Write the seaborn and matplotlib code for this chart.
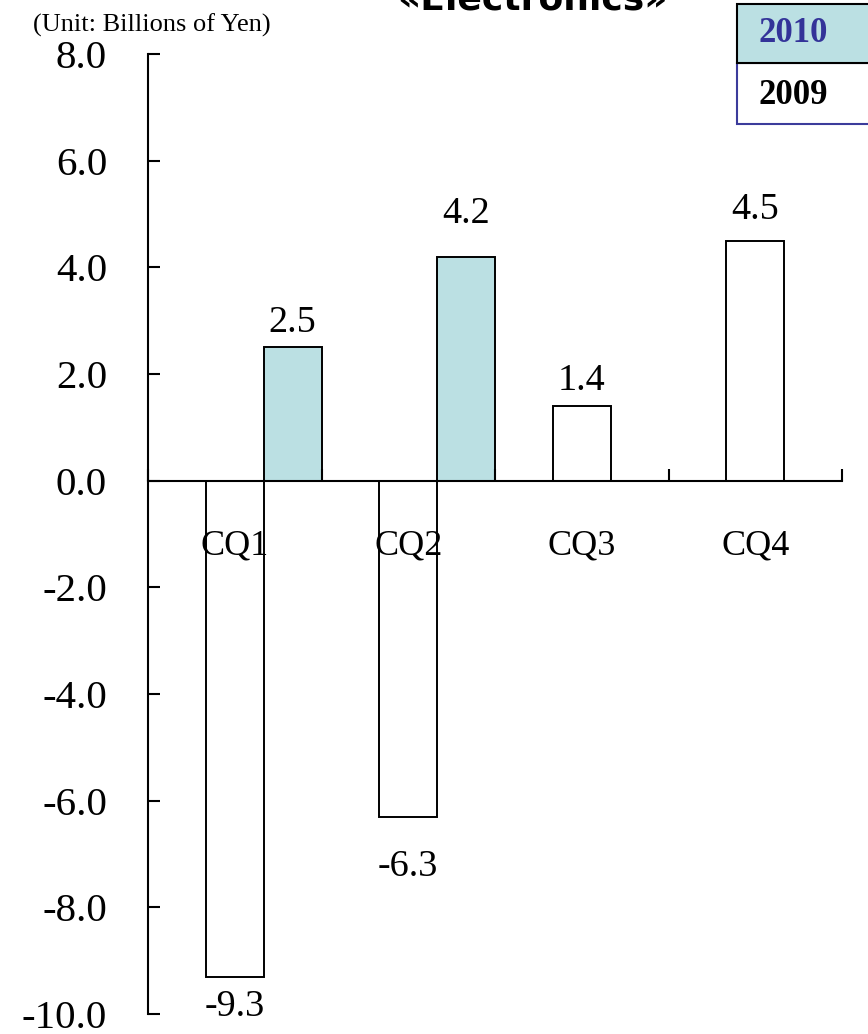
import numpy as np
import pandas as pd
import matplotlib
matplotlib.use("Agg")
import matplotlib.pyplot as plt
from matplotlib.patches import Rectangle
import seaborn as sns

# Quarterly operating income, electronics segment (billions of yen)
quarters = ["CQ1", "CQ2", "CQ3", "CQ4"]
years = ["2009", "2010"]
income_2009 = [-9.3, -6.3, 1.4, 4.5]
income_2010 = [2.5, 4.2, np.nan, np.nan]
y_ticks = [8.0, 6.0, 4.0, 2.0, 0.0, -2.0, -4.0, -6.0, -8.0, -10.0]

# distance (px) between each bar end and its value label
label_gap_px = {
    ("2009", "CQ1"): 30, ("2009", "CQ2"): 50, ("2009", "CQ3"): 25, ("2009", "CQ4"): 31,
    ("2010", "CQ1"): 25, ("2010", "CQ2"): 43,
}

df = pd.DataFrame({
    "quarter": quarters * 2,
    "year": ["2009"] * 4 + ["2010"] * 4,
    "income": income_2009 + income_2010,
}).dropna()

sns.set_theme(style="white")
plt.rcParams["font.family"] = ["Liberation Serif", "DejaVu Serif"]

W, H = 868, 1034
fig = plt.figure(figsize=(W / 100, H / 100), dpi=100)
ax = fig.add_axes([148 / W, 1 - 1014 / H, (842 - 148) / W, (1014 - 54) / H])

palette = {"2009": "#ffffff", "2010": "#bbe0e3"}
sns.barplot(data=df, x="quarter", y="income", hue="year", order=quarters,
            hue_order=years, palette=palette, dodge=True, width=0.668,
            edgecolor="black", linewidth=1.4, saturation=1, legend=False, ax=ax)

# 2009 bar sits at the middle of each quarter slot
shift = 0.668 / 4
ax.set_xlim(-0.5 - shift, len(quarters) - 0.5 - shift)
ax.set_ylim(-10, 8)
ax.set_axisbelow(False)

# value labels
for cont, yr in zip(ax.containers, years):
    for bar in cont:
        v = bar.get_height()
        if np.isnan(v):
            continue
        qi = int(round(bar.get_x() + bar.get_width() / 2 + (shift if yr == "2009" else -shift)))
        gap = label_gap_px[(yr, quarters[qi])] * 0.72
        off = gap if v >= 0 else -gap
        ax.annotate(f"{v:.1f}", (bar.get_x() + bar.get_width() / 2, v),
                    xytext=(0, off), textcoords="offset points",
                    ha="center", va="center", fontsize=27.5, color="black")

# axes styling
for s in ("top", "right"):
    ax.spines[s].set_visible(False)
ax.spines["left"].set_linewidth(1.5)
ax.spines["left"].set_color("black")
ax.spines["bottom"].set_position(("data", 0))
ax.spines["bottom"].set_linewidth(1.5)
ax.spines["bottom"].set_color("black")

ax.set_yticks(y_ticks)
ax.set_yticklabels([f"{t:.1f}" for t in y_ticks])
ax.tick_params(axis="y", direction="in", length=8.6, width=1.5, pad=29.5,
               labelsize=29.5, colors="black", left=True)

bounds = [i - 0.5 - shift for i in range(len(quarters) + 1)]
ax.set_xticks(bounds)
ax.set_xticklabels([""] * len(bounds))
ax.tick_params(axis="x", which="major", direction="in", length=8.6, width=1.5,
               bottom=True, colors="black")
ax.set_xticks([i - shift for i in range(len(quarters))], minor=True)
ax.set_xticklabels(quarters, minor=True)
ax.tick_params(axis="x", which="minor", length=0, pad=35, labelsize=26, colors="black")
ax.set_xlabel("")
ax.set_ylabel("")
ax.grid(False)

# unit note and title
fig.text(152 / W, 1 - 25 / H, "(Unit: Billions of Yen)", ha="center", va="center",
         fontsize=19, color="black")
fig.text(532 / W, 1 - 10 / H, "«Electronics»", ha="center", va="baseline",
         fontsize=26, fontweight="bold", family=["DejaVu Sans"], color="black")

# year key box in the upper right
fig.patches.append(Rectangle((737 / W, 1 - 124 / H), 200 / W, 61 / H,
                             transform=fig.transFigure, facecolor="white",
                             edgecolor="#3b3b9b", linewidth=1.5))
fig.patches.append(Rectangle((737 / W, 1 - 63 / H), 200 / W, 59 / H,
                             transform=fig.transFigure, facecolor="#bbe0e3",
                             edgecolor="black", linewidth=1.5))
fig.text(793 / W, 1 - 34 / H, "2010", ha="center", va="center", fontsize=25,
         fontweight="bold", color="#333399")
fig.text(793 / W, 1 - 96 / H, "2009", ha="center", va="center", fontsize=25,
         fontweight="bold", color="black")

fig.savefig("out.png", dpi=100)
